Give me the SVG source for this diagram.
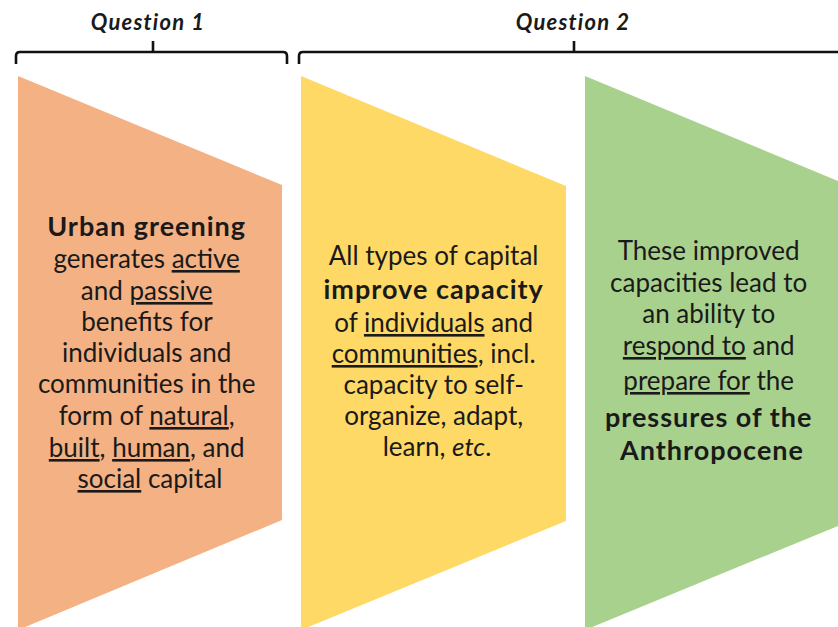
<svg xmlns="http://www.w3.org/2000/svg" width="838" height="627" viewBox="0 0 838 627">
<style>
.t{font-family:Lato,"Open Sans","DejaVu Sans",sans-serif;font-size:26px;fill:#1a1a1a;text-anchor:middle}
.b{font-weight:bold;font-size:27px;letter-spacing:1px}
.u{text-decoration:underline}
.q{font-family:Lato,"Open Sans","DejaVu Sans",sans-serif;font-size:22px;font-weight:bold;font-style:italic;letter-spacing:1.2px;fill:#1a1a1a;text-anchor:middle}
.br{fill:none;stroke:#111;stroke-width:2.6;stroke-linecap:butt;stroke-linejoin:round}
</style>
<rect width="838" height="627" fill="#fff"/>
<g id="connectors">
  <g id="bracket-q1">
    <path class="br" d="M16,64 V56 Q16,52 20,52 H283 Q287,52 287,56 V64 M153,52 V41"/>
    <text class="q" x="148" y="30">Question 1</text>
  </g>
  <g id="bracket-q2">
    <path class="br" d="M299,64 V56 Q299,52 303,52 H850 M574,52 V41"/>
    <text class="q" x="573" y="30">Question 2</text>
  </g>
</g>
<g id="node-urban-greening">
  <polygon points="18,76 282,185 282,520 18,630" fill="#F4B183"/>
  <text class="t" x="150">
    <tspan class="b" x="150" y="236">Urban greening</tspan>
    <tspan x="150" y="268">generates <tspan class="u">active</tspan></tspan>
    <tspan x="150" y="300"><tspan>and </tspan><tspan class="u">passive</tspan></tspan>
    <tspan x="150" y="331">benefits for</tspan>
    <tspan x="150" y="362">individuals and</tspan>
    <tspan x="150" y="393">communities in the</tspan>
    <tspan x="150" y="425">form of <tspan class="u">natural</tspan>,</tspan>
    <tspan x="150" y="457"><tspan class="u">built</tspan>, <tspan class="u">human</tspan>, and</tspan>
    <tspan x="150" y="488"><tspan class="u">social</tspan> capital</tspan>
  </text>
</g>
<g id="node-improve-capacity">
  <polygon points="301,76 566,186 566,521 301,630" fill="#FFD966"/>
  <text class="t" x="437">
    <tspan x="437" y="265">All types of capital</tspan>
    <tspan class="b" x="437" y="299">improve capacity</tspan>
    <tspan x="437" y="332">of <tspan class="u">individuals</tspan> and</tspan>
    <tspan x="437" y="363"><tspan class="u">communities</tspan>, incl.</tspan>
    <tspan x="437" y="394">capacity to self-</tspan>
    <tspan x="437" y="425">organize, adapt,</tspan>
    <tspan x="437" y="456">learn, <tspan font-style="italic">etc</tspan>.</tspan>
  </text>
</g>
<g id="node-anthropocene">
  <polygon points="585,76 850,186 850,521 585,630" fill="#A9D18E"/>
  <text class="t" x="712">
    <tspan x="712" y="260">These improved</tspan>
    <tspan x="712" y="292">capacities lead to</tspan>
    <tspan x="712" y="323">an ability to</tspan>
    <tspan x="712" y="355"><tspan class="u">respond to</tspan> and</tspan>
    <tspan x="712" y="390"><tspan class="u">prepare for</tspan> the</tspan>
    <tspan class="b" x="712" y="427">pressures of the</tspan>
    <tspan class="b" x="712" y="460">Anthropocene</tspan>
  </text>
</g>
</svg>
